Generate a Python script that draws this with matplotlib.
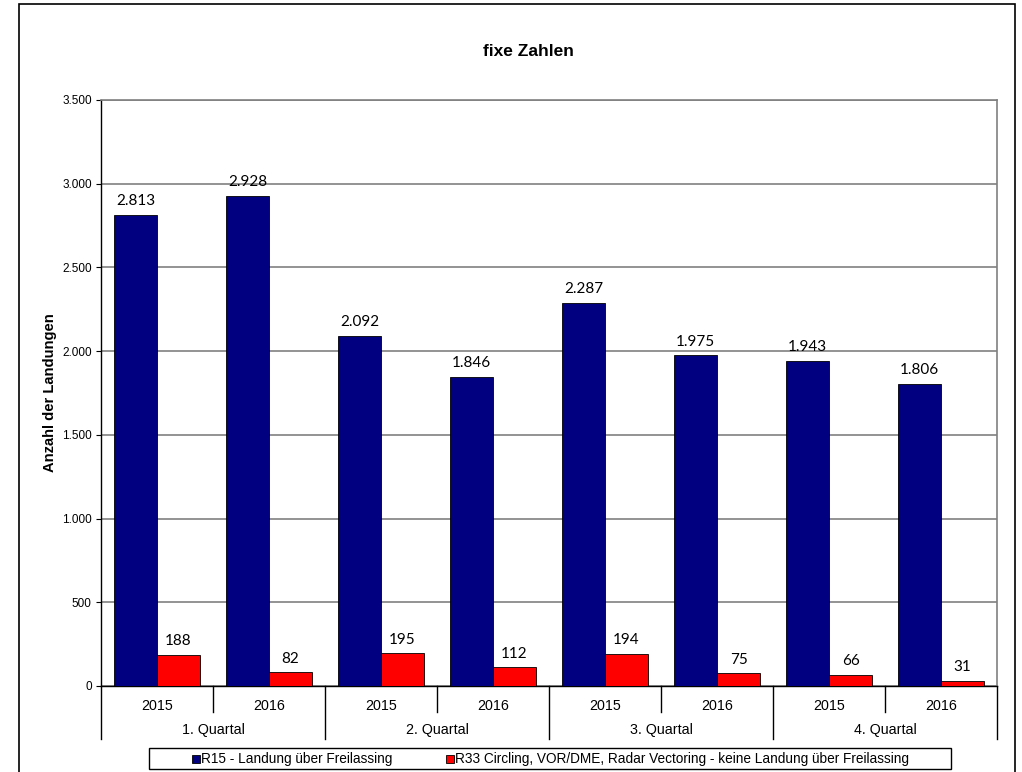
import matplotlib
matplotlib.use("Agg")
import matplotlib.pyplot as plt
from matplotlib.patches import Rectangle
from matplotlib.lines import Line2D

# data
quarters = ["1. Quartal", "2. Quartal", "3. Quartal", "4. Quartal"]
years = ["2015", "2016"]
r15 = [2813, 2928, 2092, 1846, 2287, 1975, 1943, 1806]
r33 = [188, 82, 195, 112, 194, 75, 66, 31]
series_names = ["R15 - Landung über Freilassing",
                "R33 Circling, VOR/DME, Radar Vectoring - keine Landung über Freilassing"]
series_colors = ["#000080", "#FF0000"]
yticks = [0, 500, 1000, 1500, 2000, 2500, 3000, 3500]

W, H = 1022, 772
plt.rcParams["font.family"] = ["Liberation Sans", "DejaVu Sans"]
fig = plt.figure(figsize=(W / 100, H / 100), dpi=100)

# chart frame
fig.patches.append(Rectangle((19 / W, -0.01), (1015 - 19) / W, (H - 4) / H + 0.01,
                             transform=fig.transFigure, fill=False,
                             edgecolor="black", linewidth=1.2))

L, R, T, B = 101, 997, 100, 686
ax = fig.add_axes([L / W, (H - B) / H, (R - L) / W, (B - T) / H])

n = len(r15)
xs = list(range(n))
bw = 0.385
off = 0.1925
ax.bar([x - off for x in xs], r15, width=bw, color=series_colors[0],
       edgecolor="black", linewidth=0.6, zorder=3)
ax.bar([x + off for x in xs], r33, width=bw, color=series_colors[1],
       edgecolor="black", linewidth=0.6, zorder=3)

def fmt(v):
    return f"{v:,}".replace(",", ".")

for x, v in zip(xs, r15):
    ax.annotate(fmt(v), (x - off, v), xytext=(0, 7), textcoords="offset points",
                ha="center", va="baseline", fontsize=11, family=["Lato", "DejaVu Sans"])
for x, v in zip(xs, r33):
    ax.annotate(fmt(v), (x + off, v), xytext=(0, 7), textcoords="offset points",
                ha="center", va="baseline", fontsize=11, family=["Lato", "DejaVu Sans"])

ax.set_xlim(-0.5, n - 0.5)
ax.set_ylim(0, 3500)
ax.set_yticks(yticks)
ax.set_yticklabels([fmt(v) for v in yticks], fontsize=8.5)
ax.tick_params(axis="y", direction="out", length=3.6, width=0.8, pad=3, colors="black")
ax.yaxis.grid(True, color="#808080", linewidth=1.2, zorder=0)
ax.set_axisbelow(True)

for s in ["top", "right"]:
    ax.spines[s].set_color("#808080")
    ax.spines[s].set_linewidth(1.2)
ax.spines["left"].set_color("black")
ax.spines["bottom"].set_color("black")
ax.spines["left"].set_linewidth(1.0)
ax.spines["bottom"].set_linewidth(1.0)

# two-level category axis
ax.set_xticks(xs)
ax.set_xticklabels([years[i % 2] for i in xs], fontsize=10.3)
ax.tick_params(axis="x", length=0, pad=9)
ph = B - T
tr = ax.get_xaxis_transform()
for i in range(n + 1):
    xb = i - 0.5
    depth = 53 / ph if i % 2 == 0 else 26 / ph
    ax.add_line(Line2D([xb, xb], [0, -depth], transform=tr, color="black",
                       linewidth=1.0, clip_on=False))
for q, name in enumerate(quarters):
    ax.text(2 * q + 0.5, -44 / ph, name, transform=tr, ha="center", va="center",
            fontsize=10.3)

ax.set_ylabel("Anzahl der Landungen", fontsize=10.6, fontweight="bold")
ax.yaxis.set_label_coords((57 - L) / (R - L), 0.5)

fig.text(528 / W, (H - 51) / H, "fixe Zahlen", ha="center", va="center",
         fontsize=12.5, fontweight="bold")

# legend box
lx0, lx1, ly0, ly1 = 149, 951, 748, 769
fig.patches.append(Rectangle((lx0 / W, (H - ly1) / H), (lx1 - lx0) / W, (ly1 - ly0) / H,
                             transform=fig.transFigure, fill=False,
                             edgecolor="black", linewidth=1.0))
ly = (ly0 + ly1) / 2
for mx, name, col in [(196, series_names[0], series_colors[0]),
                      (450, series_names[1], series_colors[1])]:
    fig.patches.append(Rectangle(((mx - 4) / W, (H - ly - 4) / H), 8 / W, 8 / H,
                                 transform=fig.transFigure, facecolor=col,
                                 edgecolor="black", linewidth=0.6))
    fig.text((mx + 5) / W, (H - ly) / H, name, ha="left", va="center", fontsize=9.8)

fig.savefig("out.png", dpi=100)
